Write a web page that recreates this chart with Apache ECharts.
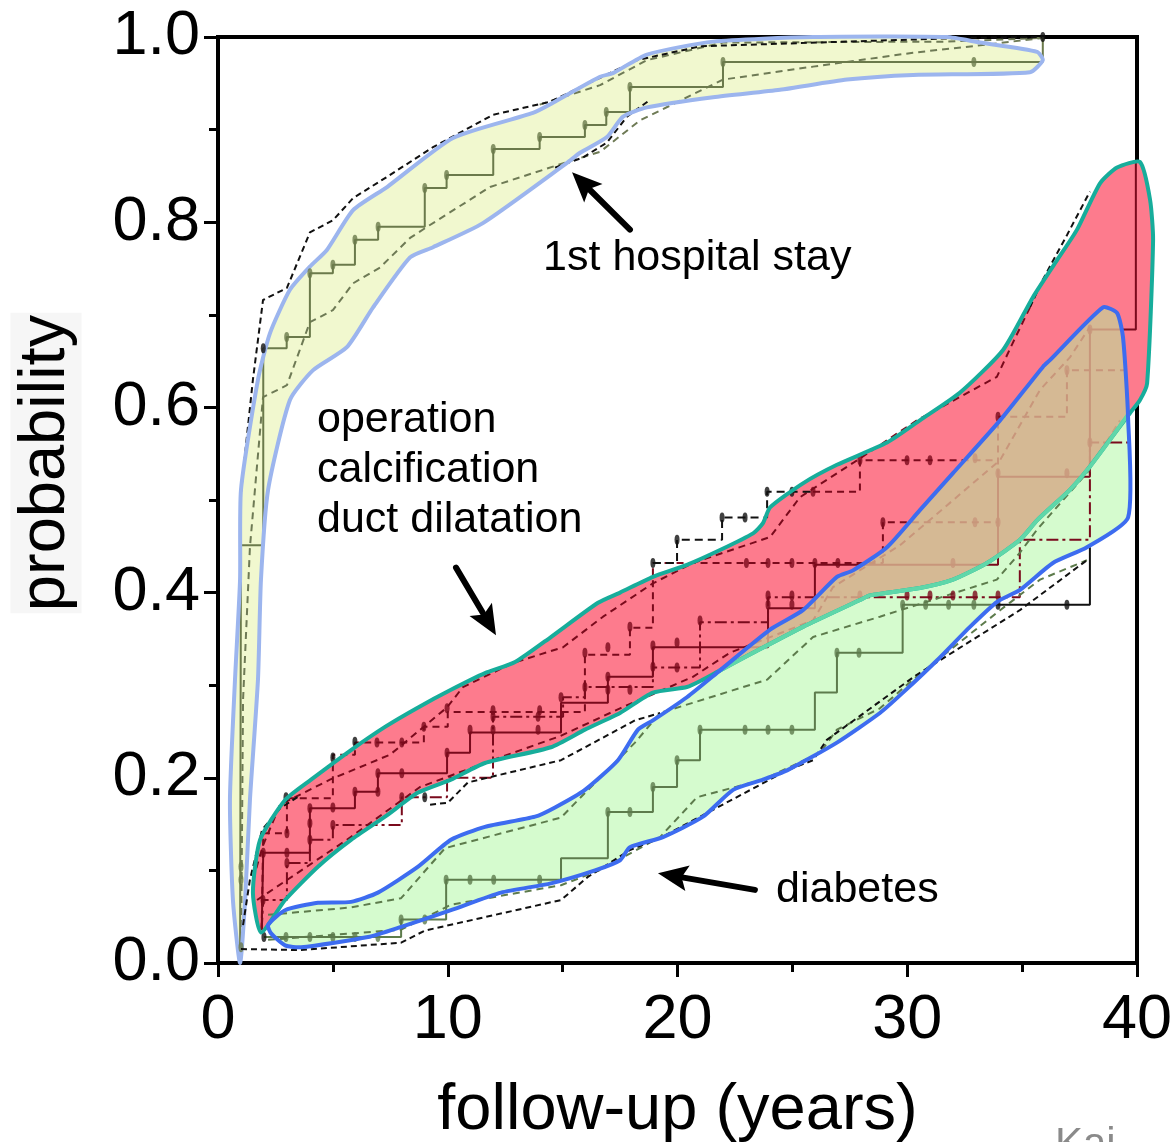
<!DOCTYPE html>
<html><head><meta charset="utf-8">
<script src="https://cdn.jsdelivr.net/npm/echarts@6/dist/echarts.min.js"></script>
<style>html,body{margin:0;padding:0;background:#fff}#c{width:1173px;height:1142px}</style>
</head><body><div id="c"></div>
<script>
// ---------- axis ticks ----------
const xTicks = [0, 10, 20, 30, 40];
const yTicks = [0.0, 0.2, 0.4, 0.6, 0.8, 1.0];

// ---------- 1st hospital stay ----------
const hospBand = [[0.96,0.0],[0.65,0.068],[0.52,0.176],[0.74,0.306],[0.96,0.414],[1.0,0.511],[1.74,0.630],[2.26,0.680],[3.13,0.727],[4.0,0.752],[4.74,0.770],[5.88,0.813],[7.36,0.838],[10.23,0.891],[13.71,0.918],[14.58,0.929],[16.63,0.957],[17.19,0.961],[18.67,0.981],[21.55,0.995],[25.9,1.0],[31.73,1.0],[33.17,0.994],[35.65,0.984],[35.9,0.975],[35.34,0.962],[30.25,0.959],[27.38,0.954],[24.46,0.943],[21.55,0.935],[18.67,0.924],[17.63,0.914],[16.93,0.892],[15.76,0.875],[15.19,0.864],[11.53,0.799],[9.36,0.773],[8.36,0.762],[6.75,0.708],[5.61,0.665],[4.13,0.640],[3.13,0.608],[2.18,0.511],[1.87,0.414],[1.74,0.306],[1.39,0.176],[1.18,0.068]];
const hospKM = [[0.96,0.0],[1.0,0.451],[1.97,0.664],[2.99,0.676],[4.0,0.745],[5.0,0.754],[5.96,0.781],[6.97,0.795],[9.0,0.837],[9.95,0.851],[11.98,0.879],[14.0,0.892],[15.97,0.905],[16.9,0.919],[17.93,0.946],[21.98,0.973],[35.9,0.973],[35.9,1.0]];
const hospDots = [[1.0,0.017],[1.0,0.090],[1.0,0.104],[2.99,0.676],[4.0,0.745],[5.0,0.754],[5.96,0.781],[6.97,0.795],[9.0,0.837],[9.95,0.851],[11.98,0.879],[14.0,0.892],[15.97,0.905],[16.9,0.919],[17.93,0.946],[21.98,0.973],[32.9,0.973]];
const hospUpperBlack = [[1.0,0.508],[1.52,0.630],[1.96,0.716],[3.0,0.729],[4.0,0.789],[5.0,0.802],[5.88,0.826],[7.36,0.849],[9.36,0.881],[11.97,0.916],[14.45,0.930],[16.63,0.956],[18.24,0.975],[21.0,0.990],[32.4,0.999],[35.9,1.0]];
const hospLowerBlack = [[14.67,0.859],[15.89,0.870],[16.93,0.886],[17.8,0.914],[18.8,0.932]];
const hospUpperGray = [[14.0,0.927],[16.63,0.948],[18.67,0.975],[21.98,0.994],[31.73,0.995],[35.9,0.999]];
const hospLowerGray = [[1.0,0.0],[1.09,0.284],[1.39,0.449],[1.87,0.586],[1.96,0.611],[3.0,0.624],[4.0,0.692],[5.0,0.705],[5.88,0.734],[7.05,0.751],[8.36,0.783],[9.1,0.795],[11.84,0.838],[13.71,0.853],[15.19,0.865],[16.63,0.876],[18.37,0.910],[21.98,0.954],[25.9,0.968],[30.25,0.983],[33.17,0.991],[35.9,0.999]];

// ---------- operation / calcification / duct dilatation ----------
const redBand = [[1.87,0.033],[1.52,0.076],[1.83,0.133],[2.92,0.176],[4.05,0.198],[5.79,0.230],[7.27,0.255],[8.71,0.276],[10.14,0.295],[11.62,0.313],[12.93,0.325],[14.49,0.352],[16.54,0.389],[17.5,0.400],[18.93,0.417],[20.41,0.430],[21.85,0.446],[23.29,0.464],[23.72,0.475],[24.03,0.492],[25.46,0.518],[26.94,0.538],[29.12,0.562],[30.55,0.586],[32.3,0.616],[34.17,0.662],[35.47,0.719],[36.52,0.759],[37.39,0.792],[38.39,0.842],[39.13,0.859],[40.13,0.865],[40.57,0.824],[40.7,0.781],[40.44,0.626],[40.13,0.608],[39.7,0.594],[38.82,0.565],[37.82,0.532],[37.08,0.511],[35.65,0.478],[34.91,0.457],[33.47,0.432],[31.99,0.414],[30.55,0.405],[28.38,0.397],[27.94,0.392],[25.46,0.363],[23.29,0.335],[21.85,0.316],[21.11,0.306],[20.41,0.298],[18.93,0.292],[17.5,0.270],[15.97,0.252],[14.49,0.233],[11.62,0.216],[10.14,0.198],[8.71,0.184],[7.27,0.158],[5.79,0.133],[4.35,0.104],[2.92,0.068]];
const redSolid = [[1.9,0.036],[1.97,0.119],[4.0,0.167],[5.96,0.185],[6.96,0.205],[9.97,0.227],[10.97,0.249],[14.93,0.281],[16.97,0.309],[18.93,0.341],[23.94,0.383],[25.98,0.430],[33.95,0.525],[37.95,0.684],[39.95,0.864]];
const redDashed = [[1.9,0.036],[1.97,0.14],[3.0,0.178],[5.0,0.225],[5.96,0.238],[8.96,0.255],[10.0,0.271],[15.97,0.333],[17.93,0.362],[18.93,0.432],[28.94,0.476],[33.95,0.59],[36.95,0.64],[39.75,0.64]];
const redDashDot = [[1.9,0.036],[1.97,0.068],[3.0,0.108],[4.0,0.133],[5.0,0.149],[8.0,0.179],[9.97,0.20],[11.97,0.266],[15.02,0.287],[15.97,0.298],[18.93,0.319],[20.98,0.368],[23.94,0.395],[34.9,0.457],[37.95,0.562],[39.7,0.562]];
const redStepCI = [[25.9,0.509],[27.94,0.543],[33.95,0.543]];
const redUpperCI = [[1.52,0.090],[1.96,0.127],[2.7,0.171],[4.87,0.198],[7.49,0.225],[9.97,0.276],[10.66,0.298],[12.84,0.324],[15.02,0.341],[16.76,0.374],[18.93,0.410],[20.67,0.432],[24.03,0.460],[25.33,0.503],[27.64,0.540],[30.42,0.586],[33.9,0.633],[34.6,0.670],[35.34,0.708]];
const redLowerCI = [[1.7,0.068],[5.61,0.133],[8.79,0.190],[12.27,0.222],[14.89,0.245],[17.5,0.275],[20.67,0.309],[22.28,0.335],[25.9,0.370],[26.77,0.406],[29.68,0.451],[34.04,0.543],[35.78,0.619],[37.08,0.654],[37.95,0.687]];
const redBlackUpperLeft = [[1.09,0.041],[1.39,0.090],[1.92,0.144],[2.7,0.167],[3.57,0.181]];
const redBlackUpperRight = [[35.34,0.708],[35.9,0.738],[36.95,0.786],[37.95,0.833]];
const redBlackStep = [[18.93,0.432],[19.98,0.457],[21.94,0.481],[23.9,0.509],[25.9,0.509]];
const redBlackLower = [[9.23,0.171],[10.0,0.173],[10.88,0.195],[14.93,0.219],[18.15,0.262],[19.24,0.270]];
const redDots = [[1.97,0.119],[3.0,0.119],[3.0,0.14],[3.0,0.108],[1.96,0.068],[4.0,0.167],[4.0,0.151],[4.0,0.133],[5.0,0.168],[5.0,0.149],[5.96,0.185],[6.96,0.185],[6.96,0.205],[6.92,0.238],[8.0,0.205],[8.0,0.179],[8.0,0.238],[8.96,0.255],[9.97,0.227],[9.97,0.275],[10.97,0.252],[11.97,0.252],[11.97,0.266],[11.97,0.273],[13.93,0.252],[13.93,0.266],[14.0,0.273],[14.93,0.287],[15.97,0.298],[15.97,0.335],[16.97,0.295],[16.97,0.309],[16.97,0.341],[17.93,0.363],[17.93,0.295],[18.93,0.343],[18.93,0.320],[19.98,0.346],[19.98,0.319],[20.98,0.370],[23.0,0.432],[23.94,0.432],[24.98,0.432],[25.98,0.432],[26.98,0.432],[25.9,0.509],[27.94,0.543],[29.99,0.543],[30.99,0.543],[23.94,0.397],[24.98,0.397],[23.94,0.387],[24.98,0.387],[27.94,0.397],[29.99,0.397],[30.99,0.397],[31.99,0.397],[32.95,0.397],[33.95,0.397],[31.99,0.432],[28.94,0.476],[32.95,0.476],[33.95,0.476],[32.95,0.545],[33.95,0.529],[36.95,0.529],[37.95,0.562],[33.95,0.59],[36.95,0.64],[37.95,0.684]];

// ---------- diabetes ----------
const greenBand = [[2.18,0.041],[2.92,0.057],[4.35,0.065],[5.79,0.066],[6.96,0.076],[8.71,0.104],[10.14,0.133],[11.62,0.147],[13.8,0.158],[14.67,0.168],[15.97,0.187],[17.41,0.219],[18.28,0.252],[18.93,0.262],[20.41,0.287],[21.85,0.316],[24.03,0.360],[25.46,0.381],[26.94,0.417],[27.64,0.424],[29.12,0.449],[30.55,0.489],[31.99,0.529],[34.04,0.586],[35.91,0.644],[36.21,0.651],[38.52,0.708],[39.13,0.702],[39.39,0.676],[39.61,0.590],[39.61,0.481],[37.82,0.449],[36.34,0.432],[34.91,0.403],[33.91,0.390],[32.73,0.363],[31.3,0.327],[29.81,0.292],[28.81,0.270],[26.94,0.238],[24.77,0.208],[23.72,0.198],[22.42,0.187],[21.11,0.158],[19.37,0.136],[17.93,0.125],[17.5,0.111],[16.41,0.100],[14.49,0.086],[12.32,0.076],[10.14,0.057],[7.97,0.039],[6.53,0.028],[3.61,0.017],[2.92,0.019],[2.31,0.032]];
const overlapBand = [[21.85,0.316],[24.03,0.360],[25.46,0.381],[26.94,0.417],[27.64,0.424],[29.12,0.449],[30.55,0.489],[31.99,0.529],[34.04,0.586],[35.91,0.644],[36.21,0.651],[38.52,0.708],[39.13,0.702],[39.39,0.676],[39.6,0.592],[38.82,0.565],[37.82,0.532],[37.08,0.511],[35.65,0.478],[34.91,0.457],[33.47,0.432],[31.99,0.414],[30.55,0.405],[28.38,0.397],[27.94,0.392],[25.46,0.363],[23.29,0.335]];
const redLowerInGreen = [[39.6,0.592],[38.82,0.565],[37.82,0.532],[37.08,0.511],[35.65,0.478],[34.91,0.457],[33.47,0.432],[31.99,0.414],[30.55,0.405],[28.38,0.397],[27.94,0.392],[25.46,0.363],[23.29,0.335],[21.85,0.316]];
const greenKM = [[2.0,0.028],[7.97,0.047],[9.93,0.090],[14.93,0.113],[16.97,0.163],[18.93,0.190],[19.98,0.219],[20.98,0.252],[25.98,0.292],[26.94,0.335],[29.8,0.387],[33.95,0.387]];
const greenKMBlack = [[33.95,0.387],[37.95,0.449]];
const greenDots = [[2.96,0.028],[4.0,0.028],[5.0,0.028],[5.96,0.028],[6.96,0.028],[7.97,0.047],[9.0,0.047],[9.93,0.090],[10.97,0.090],[12.0,0.090],[14.0,0.090],[16.97,0.163],[17.93,0.163],[18.93,0.190],[19.98,0.219],[20.98,0.252],[22.94,0.252],[23.94,0.252],[24.98,0.252],[26.94,0.335],[27.9,0.335],[29.8,0.387],[30.8,0.387],[31.8,0.387],[32.9,0.387]];
const greenUpperCI = [[2.18,0.052],[5.79,0.060],[7.97,0.070],[9.88,0.124],[14.93,0.157],[15.67,0.176],[18.15,0.238],[19.24,0.270],[23.9,0.306],[25.9,0.352],[28.81,0.374],[33.9,0.414],[34.9,0.443],[35.65,0.468],[37.82,0.529],[39.26,0.586]];
const greenLowerCI = [[2.18,0.025],[7.97,0.036],[10.14,0.063],[14.93,0.084],[16.6,0.100],[19.24,0.136],[20.85,0.179],[23.72,0.198],[26.2,0.227],[26.94,0.252],[28.81,0.275],[30.25,0.306],[31.86,0.338],[34.04,0.381],[35.78,0.414],[37.82,0.435]];
const greenLowerBlack = [[1.0,0.015],[3.61,0.014],[7.97,0.022],[9.0,0.035],[14.93,0.068],[16.1,0.093],[17.93,0.122],[19.24,0.135],[24.77,0.208],[25.9,0.219],[26.5,0.241],[30.4,0.311],[34.9,0.381],[37.82,0.435]];
const blackDots = [[1.97,0.664],[35.9,1.0],[2.96,0.179],[5.0,0.222],[5.96,0.239],[9.0,0.179],[18.93,0.432],[19.98,0.457],[21.94,0.481],[22.94,0.481],[23.9,0.509],[24.98,0.509],[33.95,0.387],[36.95,0.387],[2.0,0.028]];

// ---------- annotations ----------
const annoText = ['1st hospital stay', 'operation', 'calcification', 'duct dilatation', 'diabetes'];
const annoPos = [[14.15,0.761],[4.31,0.586],[4.31,0.532],[4.31,0.478],[24.29,0.079]];
const arrowTail = [[17.93,0.792],[10.36,0.427],[23.37,0.079]];
const arrowHead = [[15.41,0.854],[12.1,0.354],[19.15,0.097]];
const xTitle = 'follow-up (years)';
const yTitle = 'probability';

// ---------- helpers ----------
const FONT = '"Liberation Sans", Arial, sans-serif';
const SM = 0.2;
function poly(pts, style, z) {
  return {type:'custom', z, silent:true, data:[[0,0]], clip:false,
    renderItem:(p, api)=>({type:'polygon', shape:{points: pts.map(q=>api.coord(q)), smooth:SM}, style})};
}
function pline(pts, style, z) {
  return {type:'custom', z, silent:true, data:[[0,0]], clip:false,
    renderItem:(p, api)=>({type:'polyline', shape:{points: pts.map(q=>api.coord(q)), smooth:SM}, style:Object.assign({fill:null, lineJoin:'round', lineCap:'round'}, style)})};
}
function step(pts, color, type, width, z) {
  return {type:'line', z, silent:true, step:'end', data:pts, symbol:'none', animation:false,
    lineStyle:{color, width:width||2, type:type||'solid'}};
}
function smoothDash(pts, color, dash, z) {
  return {type:'line', z, silent:true, data:pts, symbol:'none', animation:false,
    lineStyle:{color, width:2, type:dash}};
}
function dots(pts, color, z) {
  return {type:'scatter', z, silent:true, data:pts, symbol:'circle', symbolSize:[5,10], itemStyle:{color}, animation:false};
}

const series = [
  // hospital
  poly(hospBand, {fill:'#f1f8cf'}, 1),
  smoothDash(hospLowerGray, '#6e7a55', [7,5], 2),
  smoothDash(hospUpperGray, '#6e7a55', [7,5], 2),
  smoothDash(hospUpperBlack, '#111', [6,4], 2),
  smoothDash(hospLowerBlack, '#111', [6,4], 2),
  step(hospKM, '#6b7a4b', 'solid', 2, 2),
  dots(hospDots, '#6b7a4b', 3),
  poly(hospBand, {fill:null, stroke:'#9cb5ee', lineWidth:4, lineJoin:'round'}, 3),
  // red + green fills
  poly(redBand, {fill:'#fd7b8d'}, 4),
  poly(greenBand, {fill:'#d5fbce'}, 5),
  // red lines
  step(redSolid, '#7a0a1c', 'solid', 2, 6),
  step(redDashed, '#7a0a1c', [7,5], 2, 6),
  step(redDashDot, '#7a0a1c', [12,4,3,4], 2, 6),
  step(redStepCI, '#7a0a1c', [7,5], 2, 6),
  smoothDash(redUpperCI, '#7a0a1c', [7,5], 6),
  smoothDash(redLowerCI, '#7a0a1c', [7,5], 6),
  smoothDash(redBlackUpperLeft, '#111', [6,4], 6),
  smoothDash(redBlackUpperRight, '#111', [6,4], 6),
  step(redBlackStep, '#111', [8,5], 2, 6),
  smoothDash(redBlackLower, '#111', [6,4], 6),
  // green lines
  step(greenKM, '#5d7b4c', 'solid', 2, 6),
  step(greenKMBlack, '#111', 'solid', 2, 6),
  smoothDash(greenUpperCI, '#5d7b4c', [7,5], 6),
  smoothDash(greenLowerCI, '#5d7b4c', [7,5], 6),
  smoothDash(greenLowerBlack, '#111', [6,4], 6),
  dots(redDots, '#7a0a1c', 7),
  dots(greenDots, '#5d7b4c', 7),
  dots(blackDots, '#111', 7),
  // overlap
  poly(overlapBand, {fill:'rgba(213,174,138,0.86)'}, 8),
  // outlines
  poly(redBand, {fill:null, stroke:'#17ad9b', lineWidth:4, lineJoin:'round'}, 9),
  pline(redLowerInGreen, {stroke:'#5fd7a9', lineWidth:4}, 10),
  poly(greenBand, {fill:null, stroke:'#3d6cf0', lineWidth:4, lineJoin:'round'}, 11),
  // annotations: text
  {type:'custom', z:12, silent:true, clip:false, data:annoPos.map((p,i)=>[p[0],p[1],i]),
    renderItem:(params, api)=>{
      const i = api.value(2); const c = api.coord([api.value(0), api.value(1)]);
      return {type:'text', x:c[0], y:c[1], style:{text:annoText[i], fill:'#000', fontSize:43, fontFamily:FONT, align:'left', verticalAlign:'middle'}};
    }},
  // annotations: arrows
  {type:'custom', z:12, silent:true, clip:false, data:arrowTail.map((p,i)=>[p[0],p[1],arrowHead[i][0],arrowHead[i][1]]),
    renderItem:(params, api)=>{
      const a = api.coord([api.value(0), api.value(1)]);
      const b = api.coord([api.value(2), api.value(3)]);
      const dx=b[0]-a[0], dy=b[1]-a[1], L=Math.hypot(dx,dy), ux=dx/L, uy=dy/L;
      const hl=30, hw=13;
      const base=[b[0]-ux*hl, b[1]-uy*hl];
      return {type:'group', children:[
        {type:'line', shape:{x1:a[0],y1:a[1],x2:base[0]+ux*4,y2:base[1]+uy*4}, style:{stroke:'#000', lineWidth:6, lineCap:'round'}},
        {type:'polygon', shape:{points:[b,[base[0]-uy*hw, base[1]+ux*hw],[base[0]+ux*6, base[1]+uy*6],[base[0]+uy*hw, base[1]-ux*hw]]}, style:{fill:'#000'}}
      ]};
    }}
];

const chart = echarts.init(document.getElementById('c'), null, {renderer:'canvas'});
chart.setOption({
  animation:false,
  backgroundColor:'#fff',
  grid:{left:218, right:36, top:37, bottom:179, containLabel:false, outerBoundsMode:'none',
    show:true, borderColor:'#000', borderWidth:4, backgroundColor:'transparent'},
  xAxis:{type:'value', min:xTicks[0], max:xTicks[xTicks.length-1], interval:10,
    name:xTitle, nameLocation:'middle', nameGap:116,
    nameTextStyle:{fontSize:65, fontFamily:FONT, color:'#000'},
    axisLine:{show:true, lineStyle:{color:'#000', width:4}},
    axisTick:{show:true, length:14, lineStyle:{color:'#000', width:3}},
    minorTick:{show:true, splitNumber:2, length:9, lineStyle:{color:'#000', width:3}},
    splitLine:{show:false}, minorSplitLine:{show:false},
    axisLabel:{fontSize:63, fontFamily:FONT, color:'#000', margin:26, formatter:v=>xTicks.includes(v)?String(v):''}},
  yAxis:{type:'value', min:yTicks[0], max:yTicks[yTicks.length-1], interval:0.2,
    axisLine:{show:true, lineStyle:{color:'#000', width:4}},
    axisTick:{show:true, length:14, lineStyle:{color:'#000', width:3}},
    minorTick:{show:true, splitNumber:2, length:9, lineStyle:{color:'#000', width:3}},
    splitLine:{show:false}, minorSplitLine:{show:false},
    axisLabel:{fontSize:63, fontFamily:FONT, color:'#000', margin:18, formatter:v=>{const t=yTicks.find(k=>Math.abs(k-v)<1e-9); return t===undefined?'':t.toFixed(1);}}},
  graphic:[
    {type:'text', x:46, y:463, rotation:Math.PI/2, silent:true,
      style:{text:yTitle, fill:'#000', fontSize:65, fontFamily:FONT, align:'center', verticalAlign:'middle', backgroundColor:'#f6f6f6', padding:[4,2,2,2]}},
    {type:'text', left:1055, top:1124, style:{text:'Kai', fill:'#8a8a8a', fontSize:42, fontFamily:FONT}}
  ],
  series
});
</script></body></html>
